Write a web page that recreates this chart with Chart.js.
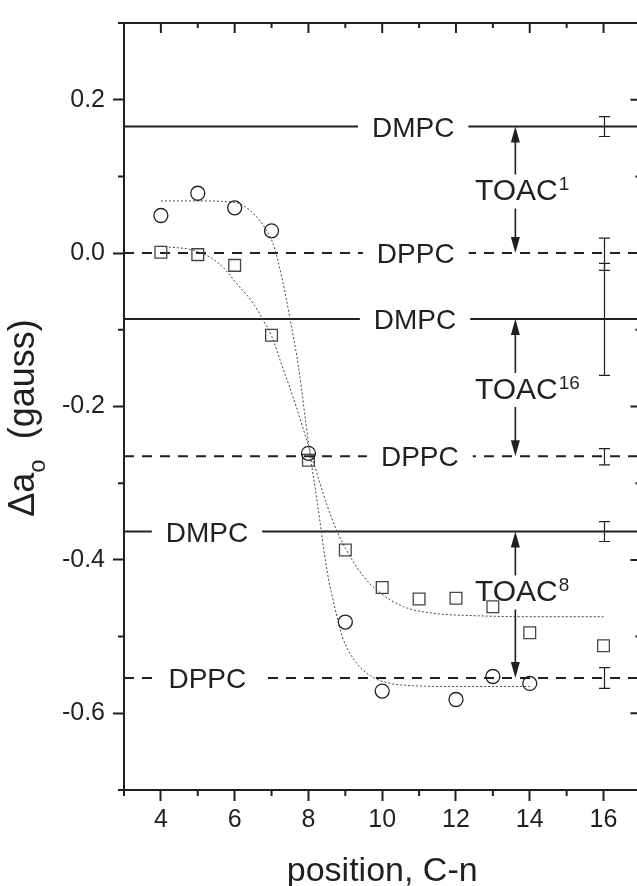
<!DOCTYPE html>
<html>
<head>
<meta charset="utf-8">
<script src="https://cdn.jsdelivr.net/npm/chart.js@4/dist/chart.umd.min.js"></script>
<style>
  html, body { margin: 0; padding: 0; background: #fff; overflow: hidden; }
  canvas { display: block; }
</style>
</head>
<body>
<canvas id="chart" width="650" height="900"></canvas>
<script>
// measured points (position C-n vs delta a_o in gauss)
const circlePos = [4, 5, 6, 7, 8, 9, 10, 12, 13, 14];
const circleVals = [0.049, 0.078, 0.059, 0.029, -0.261, -0.481, -0.571, -0.582, -0.552, -0.561];
const squarePos = [4, 5, 6, 7, 8, 9, 10, 11, 12, 13, 14, 16];
const squareVals = [0.001, -0.002, -0.016, -0.107, -0.270, -0.387, -0.436, -0.451, -0.450, -0.461, -0.495, -0.512];

// dotted fit curves
const fitCircPos = [4, 5, 6, 6.5, 6.83, 7.05, 7.28, 7.51, 7.73, 8.01, 8.25, 8.5, 8.73, 8.91, 9.22, 9.68, 10.22, 10.85, 12, 14];
const fitCircVals = [0.068, 0.068, 0.066, 0.052, 0.032, 0.011, -0.032, -0.088, -0.148, -0.251, -0.328, -0.413, -0.465, -0.499, -0.529, -0.551, -0.561, -0.564, -0.565, -0.565];
const fitSqPos = [4, 5, 5.61, 6.06, 6.51, 6.78, 7.01, 7.25, 7.6, 8.0, 8.5, 8.77, 9.04, 9.5, 9.95, 10.58, 11.3, 12.67, 14, 16];
const fitSqVals = [0.009, 0.002, -0.015, -0.040, -0.066, -0.088, -0.109, -0.142, -0.190, -0.251, -0.328, -0.362, -0.388, -0.422, -0.443, -0.461, -0.469, -0.473, -0.474, -0.474];

// reference levels
const dmpcLevels = [0.165, -0.086, -0.363];
const dppcLevels = [0.0, -0.265, -0.554];
const toacLabels = ['1', '16', '8'];

// error bars at C-16
const errPos = 16;
const errCenters = [0.165, -0.0015, -0.0865, -0.2655, -0.363, -0.554];
const errSizes = [0.013, 0.021, 0.073, 0.0105, 0.013, 0.0135];

const xTicks = [4, 6, 8, 10, 12, 14, 16];

const ink = '#231f20';
const fam = "'Liberation Sans', Arial, sans-serif";

// annotation placement
const dmpcLabelX = [10.84, 10.89, 5.25];
const dppcLabelX = [10.91, 11.02, 5.26];
const arrowX = 13.61;
const toacTextY = [0.0828, -0.176, -0.44];

const transparent = 'rgba(0,0,0,0)';
const isEven = v => Math.abs(Math.round(v * 10)) % 2 === 0;

const decor = {
  id: 'decor',
  afterDatasetsDraw(chart) {
    const { ctx, scales: { x, y } } = chart;
    ctx.save();

    // error bars
    ctx.strokeStyle = ink;
    ctx.lineWidth = 1.2;
    const ex = Math.round(x.getPixelForValue(errPos)) + 0.5;
    errCenters.forEach((c, i) => {
      const t = y.getPixelForValue(c + errSizes[i]);
      const b = y.getPixelForValue(c - errSizes[i]);
      ctx.beginPath();
      ctx.moveTo(ex, t); ctx.lineTo(ex, b);
      ctx.moveTo(ex - 5.5, t); ctx.lineTo(ex + 5.5, t);
      ctx.moveTo(ex - 5.5, b); ctx.lineTo(ex + 5.5, b);
      ctx.stroke();
    });

    // DMPC / DPPC labels sitting in gaps of the lines
    ctx.font = `28px ${fam}`;
    ctx.textAlign = 'center';
    ctx.textBaseline = 'alphabetic';
    const levelLabel = (txt, xv, yv) => {
      const px = x.getPixelForValue(xv);
      const py = y.getPixelForValue(yv);
      const w = ctx.measureText(txt).width + 28;
      ctx.fillStyle = '#fff';
      ctx.fillRect(px - w / 2, py - 4, w, 8);
      ctx.fillStyle = ink;
      ctx.fillText(txt, px, py + 10);
    };
    dmpcLevels.forEach((v, i) => levelLabel('DMPC', dmpcLabelX[i], v));
    dppcLevels.forEach((v, i) => levelLabel('DPPC', dppcLabelX[i], v));

    // TOAC arrows
    const head = (px, tipY, dir) => {
      ctx.beginPath();
      ctx.moveTo(px, tipY);
      ctx.lineTo(px - 4.5, tipY + dir * 16);
      ctx.lineTo(px + 4.5, tipY + dir * 16);
      ctx.closePath();
      ctx.fill();
    };
    const ax = x.getPixelForValue(arrowX);
    toacLabels.forEach((sup, i) => {
      const yTop = y.getPixelForValue(dmpcLevels[i]);
      const yBot = y.getPixelForValue(dppcLevels[i]);
      const yc = y.getPixelForValue(toacTextY[i]);
      ctx.strokeStyle = ink;
      ctx.fillStyle = ink;
      ctx.lineWidth = 1.6;
      ctx.beginPath();
      ctx.moveTo(ax, yTop + 10); ctx.lineTo(ax, yc - 15);
      ctx.moveTo(ax, yc + 19); ctx.lineTo(ax, yBot - 10);
      ctx.stroke();
      head(ax, yTop, 1);
      head(ax, yBot, -1);
      ctx.font = `30px ${fam}`;
      ctx.textAlign = 'center';
      ctx.fillText('TOAC', ax + 1, yc + 10.7);
      const w = ctx.measureText('TOAC').width;
      ctx.font = `19px ${fam}`;
      ctx.textAlign = 'left';
      ctx.fillText(sup, ax + 2 + w / 2, yc + 0.7);
    });
    ctx.restore();
  },
  afterDraw(chart) {
    const { ctx, chartArea: a, scales: { x, y } } = chart;
    ctx.save();
    ctx.strokeStyle = ink;
    ctx.lineWidth = 2;
    ctx.beginPath();
    ctx.moveTo(a.left - 1, a.top); ctx.lineTo(a.right + 1, a.top);
    ctx.moveTo(a.right, a.top); ctx.lineTo(a.right, a.bottom);
    ctx.stroke();

    ctx.beginPath();
    for (let v = 3; v <= 17; v++) {
      const px = x.getPixelForValue(v);
      const major = v % 2 === 0;
      if (!major) { ctx.moveTo(px, a.bottom); ctx.lineTo(px, a.bottom + 6); }
      ctx.moveTo(px, a.top); ctx.lineTo(px, a.top + (major ? 10 : 5));
    }
    for (let k = -7; k <= 3; k++) {
      const py = y.getPixelForValue(k / 10);
      const major = k % 2 === 0;
      if (!major) { ctx.moveTo(a.left, py); ctx.lineTo(a.left - 6, py); }
      ctx.moveTo(a.right, py); ctx.lineTo(a.right - (major ? 10 : 5), py);
    }
    ctx.stroke();

    // y title with subscript
    ctx.translate(34, 418);
    ctx.rotate(-Math.PI / 2);
    ctx.fillStyle = ink;
    ctx.textBaseline = 'alphabetic';
    ctx.textAlign = 'left';
    const mainF = `36px ${fam}`, subF = `24px ${fam}`;
    ctx.font = mainF;
    const w1 = ctx.measureText('\u0394a').width;
    const w3 = ctx.measureText('  (gauss)').width;
    ctx.font = subF;
    const w2 = ctx.measureText('o').width;
    let cx = -(w1 + w2 + w3) / 2;
    ctx.font = mainF;
    ctx.fillText('\u0394a', cx, 0);
    cx += w1;
    ctx.font = subF;
    ctx.fillText('o', cx, 11);
    cx += w2;
    ctx.font = mainF;
    ctx.fillText('  (gauss)', cx, 0);
    ctx.restore();
  }
};

const levelSet = (v, dash) => ({
  type: 'line',
  data: [{ x: 3, y: v }, { x: 17, y: v }],
  borderColor: ink,
  borderWidth: 2,
  borderDash: dash,
  pointRadius: 0,
  order: 5
});

const fitSet = (px, vals) => ({
  type: 'line',
  data: px.map((p, i) => ({ x: p, y: vals[i] })),
  borderColor: '#444',
  borderWidth: 1,
  borderDash: [2, 2],
  cubicInterpolationMode: 'monotone',
  pointRadius: 0,
  order: 4
});

const ctx = document.getElementById('chart').getContext('2d');
const chart = new Chart(ctx, {
  type: 'scatter',
  data: {
    datasets: [
      ...dmpcLevels.map(v => levelSet(v, [])),
      ...dppcLevels.map(v => levelSet(v, [10, 8])),
      fitSet(fitCircPos, fitCircVals),
      fitSet(fitSqPos, fitSqVals),
      {
        data: circlePos.map((p, i) => ({ x: p, y: circleVals[i] })),
        pointStyle: 'circle',
        pointRadius: 7,
        borderColor: ink,
        borderWidth: 1.3,
        backgroundColor: transparent,
        order: 1
      },
      {
        data: squarePos.map((p, i) => ({ x: p, y: squareVals[i] })),
        pointStyle: 'rect',
        pointRadius: 8.3,
        borderColor: '#444',
        borderWidth: 1.3,
        backgroundColor: transparent,
        order: 2
      }
    ]
  },
  options: {
    responsive: false,
    animation: false,
    layout: { padding: { top: 12, right: 9, left: 0, bottom: 0 } },
    plugins: { legend: { display: false }, tooltip: { enabled: false } },
    scales: {
      x: {
        type: 'linear', min: 3, max: 17,
        afterFit: s => { s.height = 110; },
        border: { display: true, width: 2, color: ink },
        grid: {
          drawOnChartArea: false, tickLength: 11, tickWidth: 2,
          tickColor: c => (xTicks.includes(c.tick.value) ? ink : transparent)
        },
        ticks: {
          stepSize: 1, autoSkip: false, maxRotation: 0, padding: 4, color: ink,
          font: { family: fam, size: 25 },
          callback: v => (xTicks.includes(v) ? String(v) : '')
        },
        title: {
          display: true, text: 'position, C-n', color: ink,
          font: { family: fam, size: 34 }, padding: { top: 0, bottom: 8 }
        }
      },
      y: {
        type: 'linear', min: -0.7, max: 0.3,
        afterFit: s => { s.width = 124; },
        border: { display: true, width: 2, color: ink },
        grid: {
          drawOnChartArea: false, tickLength: 11, tickWidth: 2,
          tickColor: c => (isEven(c.tick.value) ? ink : transparent)
        },
        ticks: {
          stepSize: 0.1, autoSkip: false, padding: 8, color: ink,
          font: { family: fam, size: 25 },
          callback: v => (isEven(v) && v > -0.65 && v < 0.25 ? (Math.round(v * 10) / 10).toFixed(1) : '')
        }
      }
    }
  },
  plugins: [decor]
});
</script>
</body>
</html>
